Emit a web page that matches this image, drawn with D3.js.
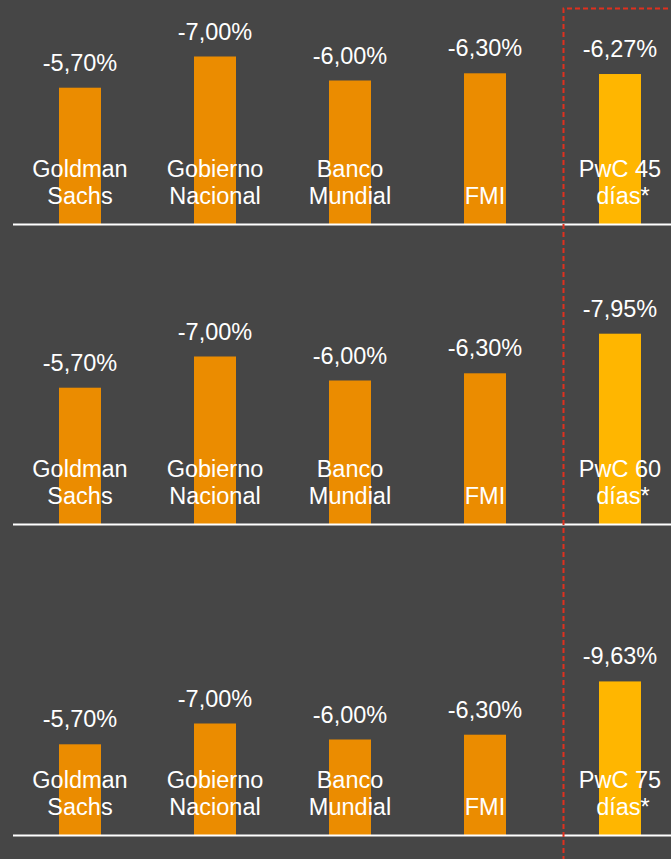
<!DOCTYPE html>
<html>
<head>
<meta charset="utf-8">
<script src="https://cdn.jsdelivr.net/npm/d3@7"></script>
<style>
  html, body { margin: 0; padding: 0; background: #464646; overflow: hidden; }
  svg { display: block; font-family: "Liberation Sans", Arial, sans-serif; }
</style>
</head>
<body>
<script>
// categories (two text lines each, as in the picture)
var categories = ["Goldman Sachs", "Gobierno Nacional", "Banco Mundial", "FMI", "PwC"];
var labelLines = [["Goldman", "Sachs"], ["Gobierno", "Nacional"], ["Banco", "Mundial"], ["", "FMI"]];
var scenarios = ["PwC 45 días*", "PwC 60 días*", "PwC 75 días*"];
var pwcLines = [["PwC 45", "días*"], ["PwC 60", "días*"], ["PwC 75", "días*"]];

// GDP forecasts (%), one array per scenario
var values45 = [-5.70, -7.00, -6.00, -6.30, -6.27];
var values60 = [-5.70, -7.00, -6.00, -6.30, -7.95];
var values75 = [-5.70, -7.00, -6.00, -6.30, -9.63];

var w = 671, h = 859;

var svg = d3.select("body")
  .append("svg")
  .attr("width", w)
  .attr("height", h);

svg.append("rect")
  .attr("width", w)
  .attr("height", h)
  .attr("fill", "#464646");

// panel layout: baseline y and pixel height of 10 %
var panels = [
  { values: values45, base: 224.5, span: 240, pwc: pwcLines[0] },
  { values: values60, base: 524.5, span: 240, pwc: pwcLines[1] },
  { values: values75, base: 835.5, span: 160, pwc: pwcLines[2] }
];

var x = d3.scalePoint()
  .domain(categories)
  .range([80, 620]);

var barW = 42;
var es = d3.formatLocale({ decimal: ",", thousands: ".", grouping: [3], currency: ["", "€"], minus: "-" });
var fmt = function(v) { return es.format(".2f")(v) + "%"; };

panels.forEach(function(p) {
  var y = d3.scaleLinear()
    .domain([0, 10])
    .range([p.base, p.base - p.span]);

  var g = svg.append("g");

  g.selectAll("rect.bar")
    .data(p.values)
    .enter()
    .append("rect")
    .attr("class", "bar")
    .attr("x", (d, i) => x(categories[i]) - barW / 2)
    .attr("y", d => y(Math.abs(d)))
    .attr("width", barW)
    .attr("height", d => y(0) - y(Math.abs(d)))
    .attr("fill", (d, i) => i === categories.length - 1 ? "#FFB600" : "#EB8C00");

  // value labels
  g.selectAll("text.val")
    .data(p.values)
    .enter()
    .append("text")
    .attr("class", "val")
    .attr("x", (d, i) => x(categories[i]))
    .attr("y", d => y(Math.abs(d)) - 17)
    .attr("text-anchor", "middle")
    .attr("fill", "#ffffff")
    .style("font-size", "23.5px")
    .text(d => fmt(d));

  // category labels
  var lines = labelLines.concat([p.pwc]);
  lines.forEach(function(l, i) {
    var t = g.append("text")
      .attr("text-anchor", "middle")
      .attr("fill", "#ffffff")
      .style("font-size", "23.5px");
    t.append("tspan")
      .attr("x", x(categories[i]))
      .attr("y", p.base - 48)
      .text(l[0]);
    t.append("tspan")
      .attr("x", x(categories[i]) + (i === 4 ? 3 : 0))
      .attr("y", p.base - 21)
      .text(l[1]);
  });

  // baseline
  g.append("line")
    .attr("x1", 13)
    .attr("x2", w)
    .attr("y1", y(0))
    .attr("y2", y(0))
    .attr("stroke", "#ffffff")
    .attr("stroke-width", 2);
});

// dashed frame around the PwC scenarios
svg.append("path")
  .attr("d", "M563.5," + (h + 10) + "V8.5H" + (w + 10))
  .attr("fill", "none")
  .attr("stroke", "#E0301E")
  .attr("stroke-width", 2)
  .attr("stroke-dasharray", "5,3");
</script>
</body>
</html>
